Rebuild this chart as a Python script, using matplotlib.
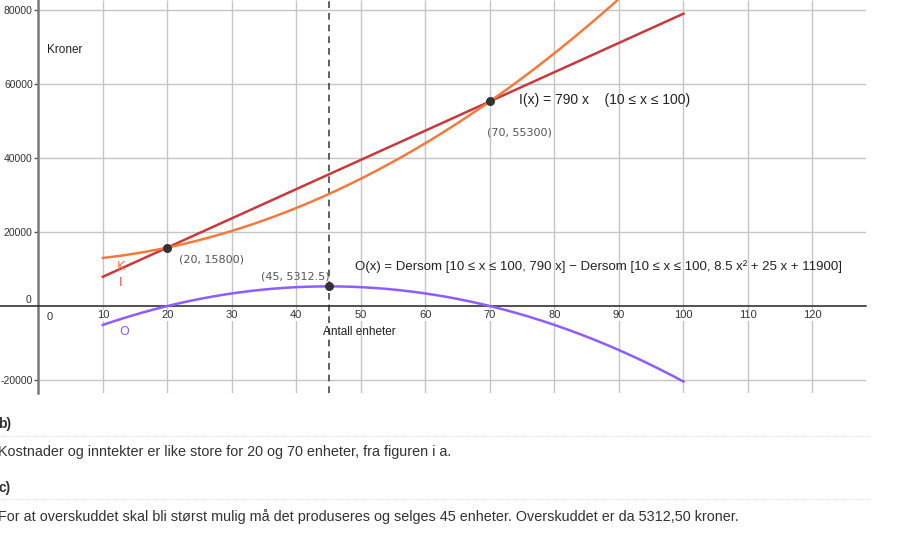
import numpy as np
import matplotlib
matplotlib.use("Agg")
from matplotlib import pyplot as plt

# values (GeoGebra graph)
revenue_coefs = [790, 0]              # I(x) = 790 x
cost_coefs = [8.5, 25, 11900]         # K(x) = 8.5 x^2 + 25 x + 11900
x_range = [10, 100]
points_x = [20, 70, 45]
points_y = [15800, 55300, 5312.5]
point_labels = ["(20, 15800)", "(70, 55300)", "(45, 5312.5)"]
x_ticks = [10, 20, 30, 40, 50, 60, 70, 80, 90, 100, 110, 120]
y_ticks = [-20000, 20000, 40000, 60000, 80000]

col_I = "#c8393b"
col_K = "#f27a3c"
col_O = "#8f5cff"
grid_col = "#c6c6c6"
sans = "Liberation Sans"

fig = plt.figure(figsize=(9.09, 5.34), dpi=100)
ax = fig.add_axes([0, 1 - 393 / 534, 866 / 909, 393 / 534])
xmin, xmax = -5.94, 128.3
ymin, ymax = -23500, 82700
ax.set_xlim(xmin, xmax)
ax.set_ylim(ymin, ymax)

# grid
ax.hlines(y_ticks, 0, xmax, color=grid_col, lw=1, zorder=0)
ax.vlines(x_ticks, ymin, ymax, color=grid_col, lw=1, zorder=0)

# axes
for s in ["top", "right"]:
    ax.spines[s].set_visible(False)
ax.spines["left"].set_position(("data", 0))
ax.spines["bottom"].set_position(("data", 0))
ax.spines["left"].set_color("#7a7a7a")
ax.spines["left"].set_linewidth(1.8)
ax.spines["bottom"].set_color("#222222")
ax.spines["bottom"].set_linewidth(1.1)
ax.set_xticks(x_ticks)
ax.set_xticklabels([str(t) for t in x_ticks], family=sans)
ax.set_yticks(y_ticks)
ax.set_yticklabels([str(t) for t in y_ticks], family=sans)
ax.tick_params(axis="x", length=0, pad=3, labelsize=8, labelcolor="#333333")
ax.tick_params(axis="y", length=3, width=1, color="#555555", pad=1,
               labelsize=7.5, labelcolor="#333333")
for lab in ax.get_xticklabels():
    lab.set_bbox(dict(facecolor="white", edgecolor="none", pad=0.5))
ax.text(1.3, -1500, "0", family=sans, fontsize=8, color="#333333", ha="left", va="top")
ax.text(-1.0, 1500, "0", family=sans, fontsize=7.5, color="#333333", ha="right", va="center")

# curves
x = np.linspace(x_range[0], x_range[1], 400)
inc = np.polyval(revenue_coefs, x)
cost = np.polyval(cost_coefs, x)
ax.plot(x, inc, color=col_I, lw=1.8, zorder=3)
ax.plot(x, cost, color=col_K, lw=1.8, zorder=3)
ax.plot(x, inc - cost, color=col_O, lw=1.8, zorder=3)

# vertical dashed line at the maximum
ax.axvline(points_x[2], color="#444444", lw=1.2, dashes=(4, 3), zorder=2)

# points
ax.scatter(points_x, points_y, s=30, color="#333333", zorder=5)
label_pos = [(21.8, 12700), (69.6, 47000), (34.5, 8100)]
for (lx, ly), txt in zip(label_pos, point_labels):
    ax.text(lx, ly, txt, fontsize=8, color="#555555", ha="left", va="center")

# curve names and axis labels
ax.text(12.8, 10700, "K", color=col_K, fontsize=9, ha="center", va="center")
ax.text(12.8, 6300, "I", color="#d9534f", fontsize=9, ha="center", va="center")
ax.text(13.3, -6900, "O", color=col_O, fontsize=9, ha="center", va="center")
ax.text(1.35, 69200, "Kroner", family=sans, fontsize=8.5, color="#222222",
        ha="left", va="center")
ax.text(44.2, -6900, "Antall enheter", family=sans, fontsize=8.5, color="#222222",
        ha="left", va="center")

# formulas
ax.text(74.5, 55680, "I(x) = 790 x    (10 ≤ x ≤ 100)", family=sans, fontsize=10,
        color="#222222", ha="left", va="center")
ax.text(49.1, 10540,
        "O(x) = Dersom [10 ≤ x ≤ 100, 790 x] − Dersom [10 ≤ x ≤ 100, 8.5 x² + 25 x + 11900]",
        family=sans, fontsize=9.5, color="#222222", ha="left", va="center")

# text below the graph
def fy(py):
    return 1 - py / 534

txt_kw = dict(family=sans, color="#333333", ha="left", va="center")
fig.text(-0.002, fy(424), "b)", fontsize=10, weight="bold", **txt_kw)
fig.lines.append(plt.Line2D([0, 870 / 909], [fy(436), fy(436)], transform=fig.transFigure,
                            color="#dddddd", lw=0.8, ls=(0, (1, 1))))
fig.text(-0.002, fy(452), "Kostnader og inntekter er like store for 20 og 70 enheter, fra figuren i a.",
         fontsize=10.35, **txt_kw)
fig.text(-0.002, fy(488), "c)", fontsize=10, weight="bold", **txt_kw)
fig.lines.append(plt.Line2D([0, 870 / 909], [fy(499), fy(499)], transform=fig.transFigure,
                            color="#dddddd", lw=0.8, ls=(0, (1, 1))))
fig.text(-0.002, fy(517), "For at overskuddet skal bli størst mulig må det produseres og selges 45 enheter. "
         "Overskuddet er da 5312,50 kroner.", fontsize=10.35, **txt_kw)

fig.savefig("out.png", dpi=100)
